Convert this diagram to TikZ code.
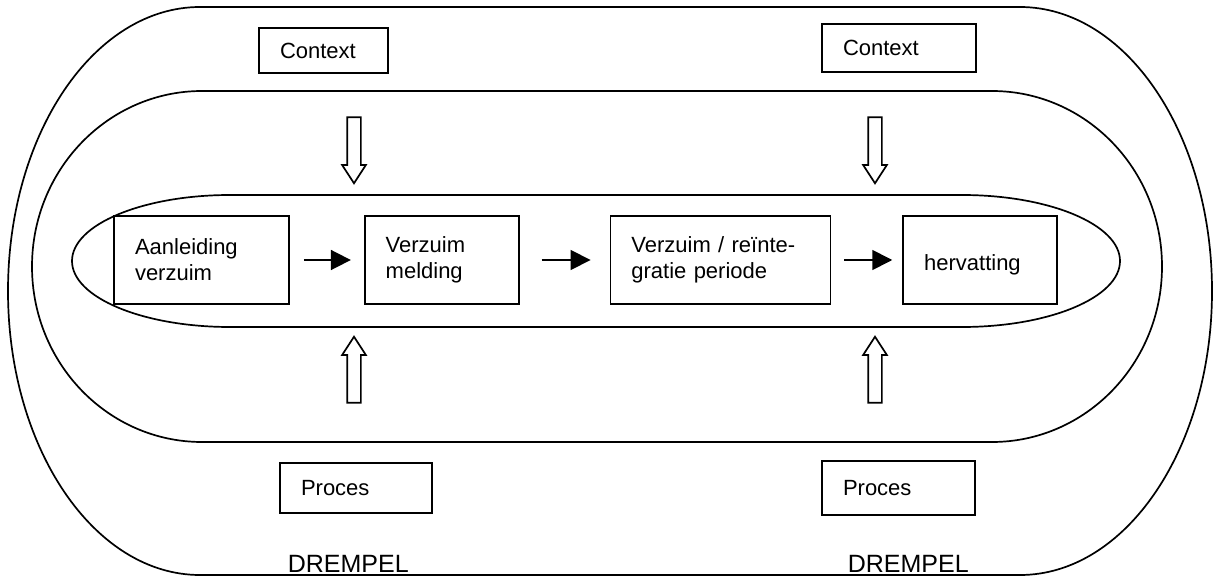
\documentclass[tikz,border=0pt]{standalone}
\usepackage{fontspec}
\setmainfont{Liberation Sans}
\usetikzlibrary{arrows.meta,positioning,shapes.arrows}

\begin{document}
\begin{tikzpicture}[x=1pt,y=1pt,>={Triangle[length=20pt,width=20pt]},line width=1.7pt,
  font=\fontsize{22}{26}\selectfont]

\useasboundingbox (0,0) rectangle (1215,-577);

\draw (200,-7) -- (1020,-7) arc[start angle=90,end angle=-90,x radius=192,y radius=284]
      -- (200,-575) arc[start angle=270,end angle=90,x radius=192,y radius=284] -- cycle;
\draw (202,-91) -- (992,-91) arc[start angle=90,end angle=-90,x radius=170,y radius=175.5]
      -- (202,-442) arc[start angle=270,end angle=90,x radius=170,y radius=175.5] -- cycle;
\draw (230,-195) -- (962,-195) arc[start angle=90,end angle=-90,x radius=158,y radius=66]
      -- (230,-327) arc[start angle=270,end angle=90,x radius=158,y radius=66] -- cycle;

\begin{scope}[every node/.style={draw,align=left,inner xsep=21pt,minimum height=88pt}]
  \node[text width=133pt] (A) at (201.5,-260) {Aanleiding\\verzuim};
  \node[text width=112pt,right=74pt of A] (M) {Verzuim\\melding};
  \node[text width=178pt,right=90pt of M] (P) {Verzuim / reïnte-\\gratie periode};
  \node[text width=112pt,right=71pt of P] (H) {\mbox{}\\hervatting};
\end{scope}

\begin{scope}[every node/.style={draw,align=left,inner xsep=21pt}]
  \node[text width=87pt,minimum height=45pt] (CL) at (323.5,-50.5) {Context};
  \node[text width=112pt,minimum height=48pt] (CR) at (899,-48) {Context};
  \node[text width=110pt,minimum height=50pt] (PL) at (356,-488) {Proces};
  \node[text width=111pt,minimum height=54pt] (PR) at (898.5,-488) {Proces};
\end{scope}

\begin{scope}[every node/.style={single arrow,draw,minimum height=66pt,inner xsep=0pt,
    inner ysep=6pt,single arrow head extend=5pt,single arrow tip angle=66}]
  \node[rotate=-90] (CLin) at (354,-145) {};
  \node[rotate=-90] (CRin) at (875,-145) {};
  \node[rotate=90] (PLin) at (354,-375) {};
  \node[rotate=90] (PRin) at (875,-375) {};
\end{scope}

\node[anchor=base west,inner sep=0pt,font=\fontsize{25}{30}\selectfont] (DL) at (287,-572) {DREMPEL};
\node[anchor=base west,inner sep=0pt,font=\fontsize{25}{30}\selectfont] (DR) at (847,-572) {DREMPEL};

\path[->] (A) edge [shorten <=14pt,shorten >=13pt] (M)
          (M) edge [shorten <=22pt,shorten >=19pt] (P)
          (P) edge [shorten <=13pt,shorten >=10pt] (H);

\end{tikzpicture}
\end{document}
